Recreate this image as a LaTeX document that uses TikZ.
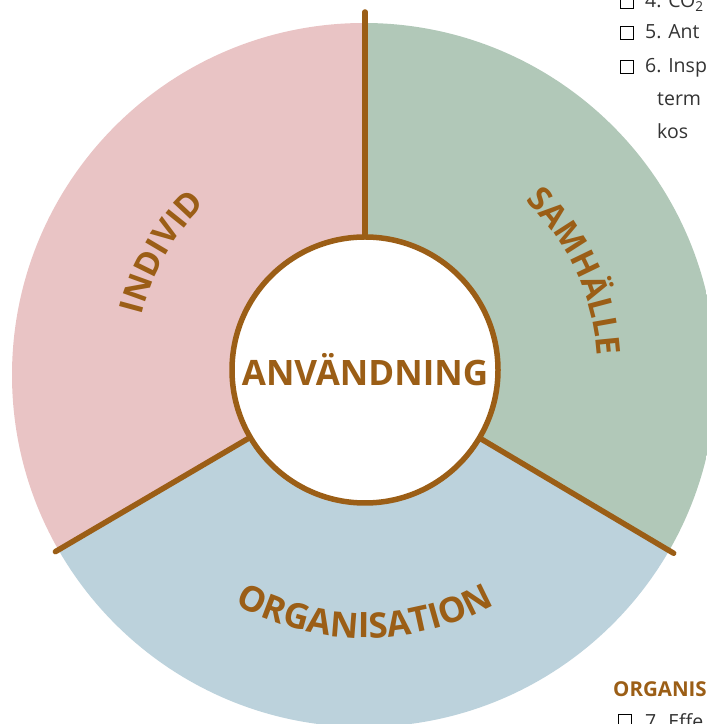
\documentclass[tikz,border=0pt]{standalone}
\usepackage{fontspec}
\setmainfont{Open Sans}
\usetikzlibrary{decorations.text}
\definecolor{pinkc}{HTML}{E9C4C5}
\definecolor{greenc}{HTML}{B1C8B8}
\definecolor{bluec}{HTML}{BCD2DC}
\definecolor{brownc}{HTML}{9B5E16}
\definecolor{listc}{HTML}{333333}
\newcommand\arclab{\fontsize{33bp}{33bp}\selectfont\bfseries\color{brownc}}
\newcommand\arclabbig{\fontsize{35bp}{35bp}\selectfont\bfseries\color{brownc}}
\begin{document}
\begin{tikzpicture}[x=1bp,y=1bp,
  sep/.style={draw=brownc, line width=5.5bp, line cap=round},
  arctext/.style={decorate, decoration={text along path, text={|\arclab|#1}, text align=center}},
  arctextbig/.style={decorate, decoration={text along path, text={|\arclabbig|#1}, text align=center}},
  listtext/.style={anchor=base west, inner sep=0, font=\fontsize{19.5bp}{19.5bp}\selectfont, text=listc},
  headtext/.style={anchor=base west, inner sep=0, font=\fontsize{20.5bp}{20.5bp}\selectfont\bfseries, text=brownc},
  tickbox/.style={draw=black, line width=1.3bp, minimum size=13bp, inner sep=0, anchor=south west}]
\useasboundingbox (0,0) rectangle (707,724);
\coordinate (ci) at (365,354);
\coordinate (co) at (364,349);
% sectors
\begin{scope}
\clip (co) circle[radius=352];
\fill[pinkc] (ci) -- +(90:600) -- +(150:700) -- +(210.4:600) -- cycle;
\fill[greenc] (ci) -- +(90:600) -- +(30:700) -- +(-30.7:600) -- cycle;
\fill[bluec] (ci) -- +(210.4:600) -- +(270:700) -- +(329.3:600) -- cycle;
\end{scope}
% centre
\node[circle, draw=brownc, line width=5.5bp, fill=white, minimum size=266bp, inner sep=0,
  font=\fontsize{35bp}{35bp}\selectfont\bfseries, text=brownc] (ctr) at (ci) {ANVÄNDNING};
% separators
\path (ci) ++(90:358) coordinate (t1);
\path (ci) ++(210.4:359) coordinate (t2);
\path (ci) ++(329.3:359) coordinate (t3);
\draw[sep] (ctr) -- (t1);
\draw[sep] (ctr) -- (t2);
\draw[sep] (ctr) -- (t3);
% curved labels
\path[arctext=INDIVID] (ci) ++(180:230) arc[start angle=180, end angle=120, radius=230];
\path[arctext=SAMHÄLLE] (ci) ++(55:233) arc[start angle=55, end angle=-5, radius=233];
\path[arctextbig=ORGANISATION] (ci) ++(230:268) arc[start angle=230, end angle=310, radius=268];
% list fragments
\node[tickbox] (b4) at (620,715) {};
\node[listtext] (l4) at (645,716) {4. CO\textsubscript{2}};
\node[tickbox] (b5) at (620,684) {};
\node[listtext] (l5) at (645,685) {5. Ant};
\node[tickbox] (b6) at (620,650) {};
\node[listtext] (l6) at (645,651) {6. Insp};
\node[listtext] (l6b) at (657,618) {term};
\node[listtext] (l6c) at (657,585) {kos};
\node[headtext] (h2) at (613,27) {ORGANIS};
\node[tickbox] (b7) at (618,-4) {};
\node[listtext] (l7) at (645,-4) {7. Effe};
\end{tikzpicture}
\end{document}
